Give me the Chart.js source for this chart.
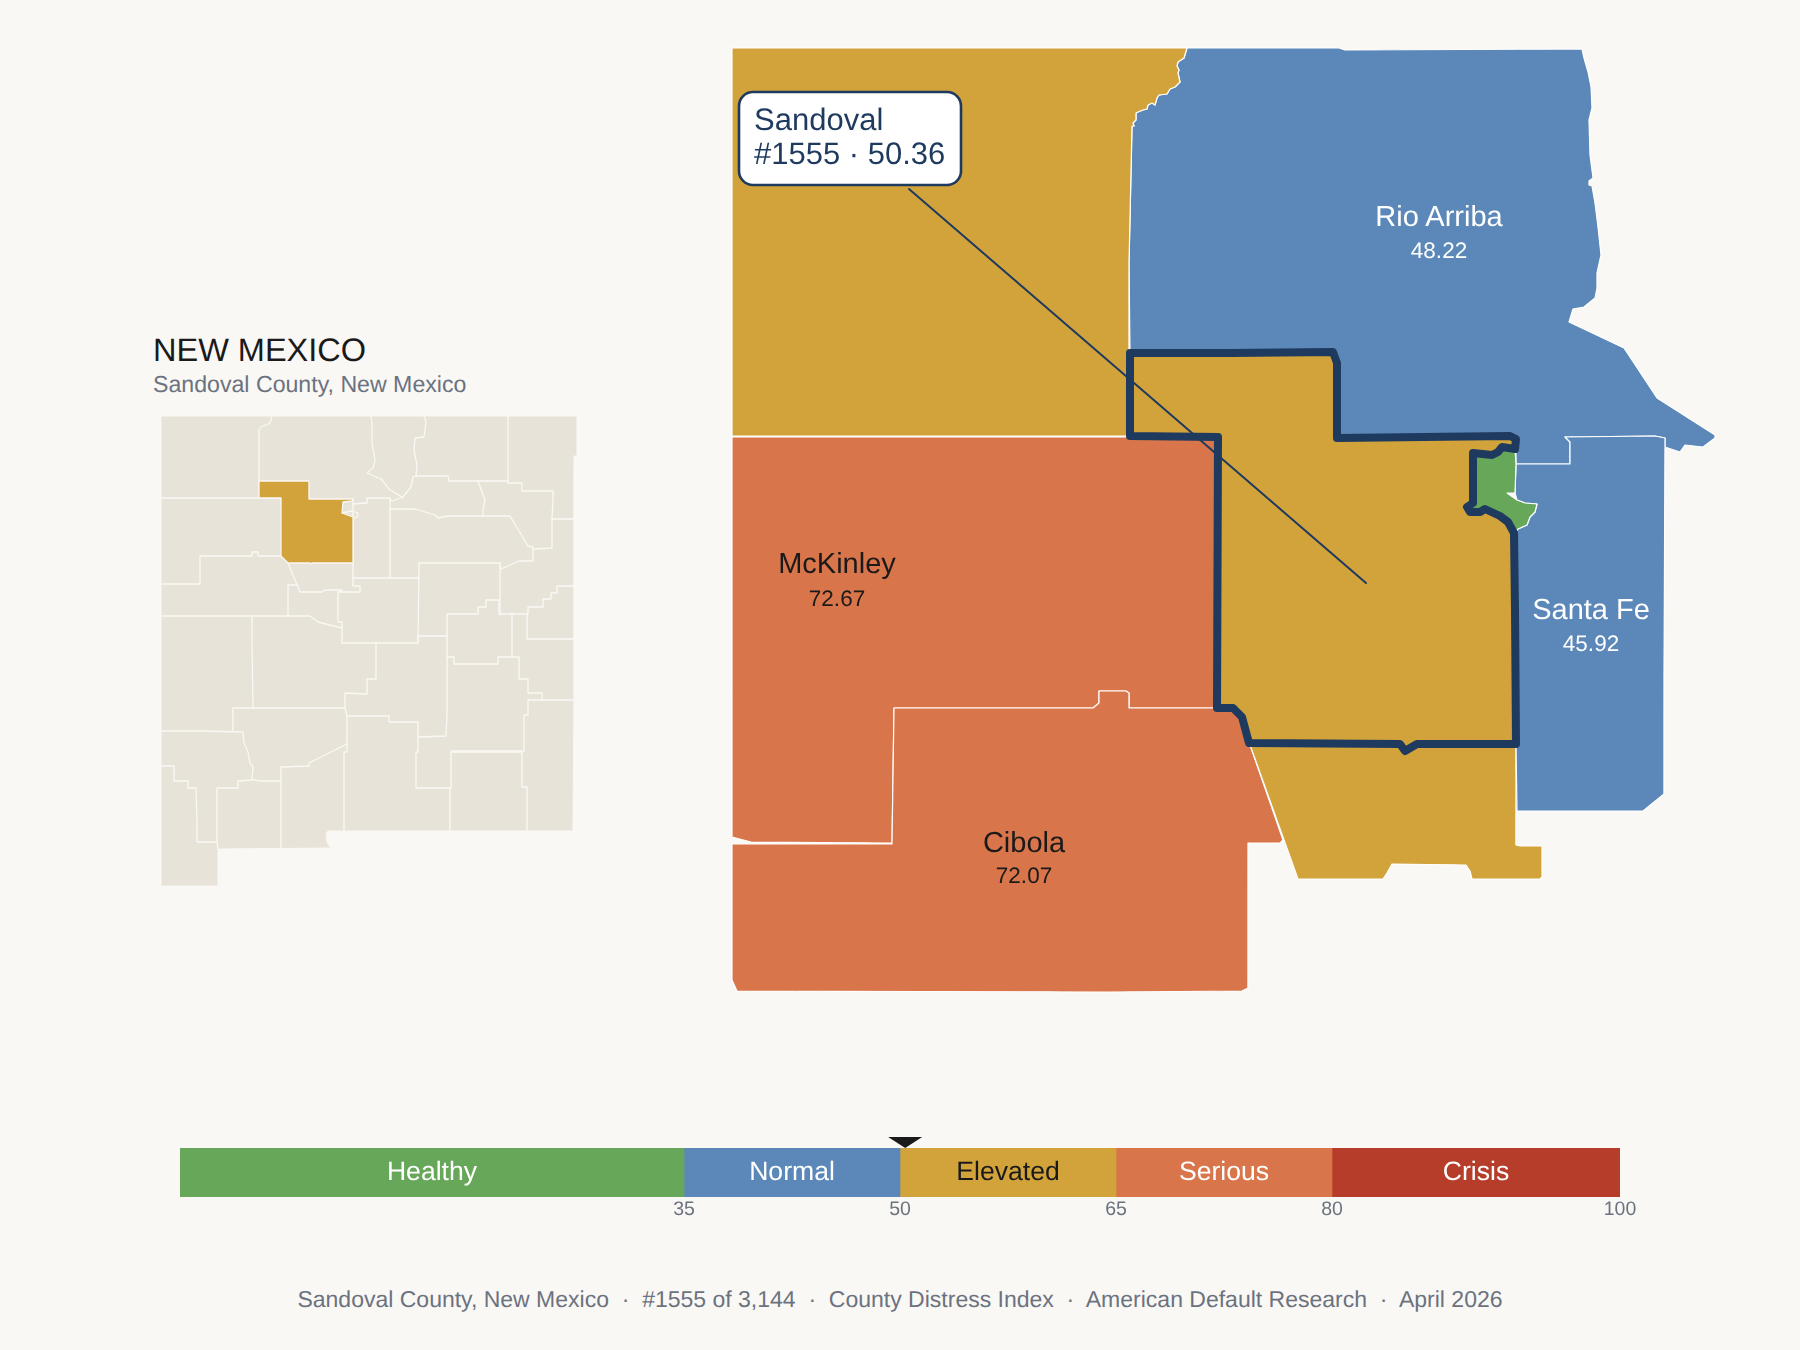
<!DOCTYPE html>
<html><head><meta charset="utf-8">
<script src="https://cdn.jsdelivr.net/npm/chart.js@4"></script>
<style>
html,body{margin:0;padding:0;background:#FAF8F4;width:1800px;height:1350px;overflow:hidden;font-family:"Liberation Sans",Arial,sans-serif;text-rendering:geometricPrecision}
canvas{position:absolute;display:block}
.t{position:absolute;white-space:pre;line-height:1}
</style></head><body>
<div class="t" style="left:153px;top:334px;font-size:32.5px;color:#1a1a1a">NEW MEXICO</div>
<div class="t" style="left:153px;top:372.5px;font-size:23.15px;color:#6b7280">Sandoval County, New Mexico</div>
<canvas id="inset" width="460" height="500" style="left:140px;top:400px"></canvas>
<canvas id="main" width="1040" height="1000" style="left:700px;top:20px"></canvas>
<canvas id="scale" width="1800" height="110" style="left:0;top:1120px"></canvas>
<div class="t" style="left:0;width:1800px;text-align:center;top:1288px;font-size:23px;color:#6b7280">Sandoval County, New Mexico  ·  #1555 of 3,144  ·  County Distress Index  ·  American Default Research  ·  April 2026</div>
<script>
// ---- Colour bands ----
const bandNames=['Healthy','Normal','Elevated','Serious','Crisis'];
const bandWidths=[35,15,15,15,20];
const bandColors=['#67A75A','#5B88B8','#D1A33A','#D9754A','#B73D2B'];
const bandText=['#ffffff','#ffffff','#1a1a1a','#ffffff','#ffffff'];
const bandTicks=[35,50,65,80,100];
const sandovalScore=50.36;

// ---- Detail map outlines, map units ----
const jag=[[455,0],[452,10],[446,14],[445,18],[447,22],[446,25],[448,34],[443,39],[438,41],[435,46],[427,47],[425,50],[423,57],[420,55],[416,57],[415,61],[411,62],[406,64],[404,65],[404,72],[401,75],[402,78],[400,78],[399,125],[397,215]];
const sanJuan=[...jag,[397,388],[0,388],[0,0],[455,0]];
const rioArriba=[[455,0],[607,0],[613,2],[850,1],[852,10],[856,24],[859,39],[860,60],[857,72],[858,107],[861,130],[857,133],[857,137],[860,138],[863,155],[866,179],[869,207],[865,225],[865,240],[863,250],[852,259],[841,261],[837,274],[892,300],[925,350],[983,387],[983,390],[971,399],[953,397],[948,404],[933,399],[933,390],[923,388],[833,389],[838,394],[838,416],[784,416],[784,391],[778,388],[605,390],[605,315],[601,304],[398,305],...[...jag].reverse()];
const mcKinley=[[0,389],[486,389],[485,660],[397,660],[397,645],[394,643],[367,643],[367,655],[361,660],[162,660],[160,795],[19,794],[0,789],[0,389]];
const cibola=[[485,660],[501,660],[510,669],[517,694],[551,792],[548,795],[516,795],[516,940],[510,943],[375,944],[5,943],[0,932],[0,796],[160,796],[162,660],[361,660],[367,655],[367,643],[394,643],[397,645],[397,660],[485,660]];
const bernalillo=[[517,694],[784,695],[784,797],[788,798],[810,798],[810,829],[808,831],[740,831],[738,823],[734,817],[660,816],[655,825],[651,831],[566,831],[517,694]];
const santaFe=[[784,416],[838,416],[838,394],[833,389],[923,388],[933,390],[932,632],[932,746],[911,763],[785,763],[784,695],[783,562],[782,485],[786,481],[795,477],[798,469],[803,464],[805,456],[793,455],[785,452],[783,445],[784,416]];
const losAlamos=[[741,405],[760,407],[766,404],[770,399],[783,401],[784,416],[783,445],[775,445],[785,452],[793,455],[805,456],[803,464],[798,469],[795,477],[786,481],[782,485],[776,474],[768,468],[753,461],[748,464],[738,464],[735,459],[741,455],[741,405]];
const sandoval=[[398,305],[498,305],[601,304],[605,315],[605,390],[778,388],[784,391],[783,401],[770,399],[766,404],[760,407],[741,405],[741,455],[735,459],[738,464],[748,464],[753,461],[768,468],[776,474],[782,485],[783,562],[784,696],[685,696],[673,703],[668,696],[517,695],[510,669],[501,660],[485,660],[486,389],[398,388],[398,305]];
const leader=[[177,141],[634,535]];

// ---- Map labels ----
const countyLabels=[
 {name:'Rio Arriba',value:'48.22',x:707,y:178,vy:210,color:'#ffffff'},
 {name:'McKinley',value:'72.67',x:105,y:525,vy:558,color:'#1a1a1a'},
 {name:'Cibola',value:'72.07',x:292,y:804,vy:835,color:'#1a1a1a'},
 {name:'Santa Fe',value:'45.92',x:859,y:571,vy:603,color:'#ffffff'}
];
const calloutLines=['Sandoval','#1555 · 50.36'];
const calloutBox={x0:7,y0:44,x1:229,y1:137};

// ---- State overview map, map units ----
const stateShape=[[0,0],[416,0],[416,40],[413,40],[413,284],[412,415],[167,415],[165,417],[166,426],[169,431],[172,432],[57,433],[57,470],[0,470],[0,0]];
const stateSandoval=[[98,65],[148,65],[148,83],[192,83],[191,85],[182,86],[181,97],[192,101],[192,147],[151,147],[150,148],[149,147],[127,147],[120,140],[120,82],[98,82],[98,65]];
const stateLines=[
[[0,82],[120,82]],
[[98,82],[98,14],[100,11],[109,7],[111,0]],
[[192,88],[206,87],[206,82],[229,82]],
[[181,97],[191,95],[197,97],[196,101],[192,103]],
[[192,83],[192,162]],
[[210,0],[211,7],[211,27],[214,44],[212,52],[206,57],[220,63],[229,74],[241,81],[232,85],[229,84]],
[[263,0],[265,6],[263,21],[254,22],[253,34],[256,49],[255,60],[252,61],[250,71],[241,82]],
[[255,60],[287,60],[288,65],[317,65],[347,65]],
[[347,0],[347,67],[361,67],[361,75],[392,75],[392,82],[391,103],[391,132],[372,133]],
[[391,103],[413,103]],
[[317,65],[324,84],[322,94],[322,100]],
[[229,93],[254,93],[274,99],[277,102],[287,100],[349,100],[367,130],[372,131],[372,145],[358,145],[340,153]],
[[229,82],[229,162]],
[[192,162],[258,162]],
[[127,147],[139,176],[161,176],[164,174],[181,174],[178,176],[199,176],[199,170],[192,170],[192,162]],
[[0,168],[39,168],[39,140],[91,140],[91,136],[97,136],[97,140],[125,140]],
[[136,169],[127,169],[127,200]],
[[177,176],[177,206],[181,206],[181,227]],
[[0,200],[149,200],[157,206],[181,212]],
[[91,200],[91,227],[92,292]],
[[72,292],[184,292]],
[[72,292],[72,315]],
[[0,315],[39,315],[82,316],[83,327],[87,336],[89,347],[92,351],[91,363],[98,365],[120,365]],
[[0,350],[13,350],[13,365],[27,365],[27,372],[35,372],[36,408],[36,426],[56,426],[57,433]],
[[91,364],[77,365],[77,372],[56,372],[56,408],[56,426]],
[[120,351],[120,432]],
[[120,351],[148,350],[148,347],[186,328],[186,300],[184,292],[184,277],[206,278],[206,263],[215,263],[215,227]],
[[181,227],[257,227],[257,220],[286,220]],
[[258,147],[257,227]],
[[258,147],[339,147],[340,153]],
[[339,147],[339,199]],
[[286,199],[286,241],[286,299],[285,320],[257,321],[257,306],[228,306],[228,300],[186,300]],
[[257,321],[257,336],[255,336],[255,372],[289,372],[289,414]],
[[186,328],[186,336],[183,336],[183,415]],
[[290,372],[290,336],[361,336],[361,371],[366,371],[366,415]],
[[286,241],[293,241],[293,248],[337,248],[337,241],[358,241],[358,263],[367,263],[367,277],[381,277],[381,284]],
[[367,284],[412,284]],
[[367,284],[367,299],[363,299],[363,335],[290,335]],
[[351,198],[351,241]],
[[286,198],[317,198],[317,191],[325,191],[325,184],[338,184],[338,198],[367,198],[367,191],[382,191],[382,183],[390,183],[390,177],[396,177],[396,170],[413,170]],
[[366,198],[366,223],[413,223]]
];

const FONT='"Liberation Sans",Arial,sans-serif';
const GOLD=bandColors[2],BLUE=bandColors[1],ORANGE=bandColors[3],GREEN=bandColors[0];
const NAVY='#1F3A5F',BEIGE='#E8E3D8',PAPER='#FAF8F4';
const pts=a=>a.map(p=>({x:p[0],y:p[1]}));
const poly=(a,fill,line,w)=>({data:pts(a),showLine:true,fill:fill?'shape':false,backgroundColor:fill||'transparent',borderColor:line,borderWidth:w,pointRadius:0,tension:1e-4,borderJoinStyle:'round',borderCapStyle:'round',clip:false});
const stack=list=>{list.forEach((d,i)=>d.order=list.length-i);return list;};
const mapScale=(max,rev)=>({type:'linear',display:false,min:0,max,reverse:!!rev});
const quiet={legend:{display:false},tooltip:{enabled:false},title:{display:false}};
const precise={id:'precise',beforeDraw(c){c.ctx.textRendering='geometricPrecision';}};

new Chart(document.getElementById('inset'),{type:'scatter',
 data:{datasets:stack([
  poly(stateShape,BEIGE,PAPER,1),
  ...stateLines.map(l=>poly(l,null,PAPER,1.3)),
  poly(stateSandoval,GOLD,PAPER,1.3)
 ])},
 options:{responsive:false,animation:false,events:[],plugins:quiet,
  layout:{padding:{left:21,top:16,right:19,bottom:10}},
  scales:{x:mapScale(420),y:mapScale(474,true)}}});

const mapText={id:'mapText',afterDatasetsDraw(c){
 const g=c.ctx,X=c.scales.x,Y=c.scales.y;
 g.save();
 g.textRendering='geometricPrecision';
 g.textAlign='center';g.textBaseline='alphabetic';
 countyLabels.forEach(l=>{
  g.fillStyle=l.color;
  g.font='29px '+FONT;g.fillText(l.name,X.getPixelForValue(l.x),Y.getPixelForValue(l.y));
  g.font='22.5px '+FONT;g.fillText(l.value,X.getPixelForValue(l.x),Y.getPixelForValue(l.vy));
 });
 const x0=X.getPixelForValue(calloutBox.x0),x1=X.getPixelForValue(calloutBox.x1),y0=Y.getPixelForValue(calloutBox.y0),y1=Y.getPixelForValue(calloutBox.y1);
 g.beginPath();g.roundRect(x0,y0,x1-x0,y1-y0,14);
 g.fillStyle='#ffffff';g.fill();g.lineWidth=2.6;g.strokeStyle=NAVY;g.stroke();
 g.fillStyle=NAVY;g.font='31px '+FONT;g.textAlign='left';
 g.fillText(calloutLines[0],x0+15,y0+38);
 g.fillText(calloutLines[1],x0+15,y0+72);
 g.restore();
}};
new Chart(document.getElementById('main'),{type:'scatter',plugins:[mapText],
 data:{datasets:stack([
  poly(rioArriba,BLUE,'#ffffff',1.2),
  poly(sanJuan,GOLD,'#ffffff',1.2),
  poly(mcKinley,ORANGE,'#ffffff',1.2),
  poly(cibola,ORANGE,'#ffffff',1.2),
  poly(bernalillo,GOLD,'#ffffff',1.2),
  poly(santaFe,BLUE,'#ffffff',1.2),
  poly(losAlamos,GREEN,'#ffffff',1.2),
  poly(sandoval,GOLD,NAVY,8),
  poly(leader,null,NAVY,2)
 ])},
 options:{responsive:false,animation:false,events:[],plugins:quiet,
  layout:{padding:{left:32,top:28,right:8,bottom:12}},
  scales:{x:mapScale(1000),y:mapScale(960,true)}}});

const scaleMarks={id:'scaleMarks',afterDatasetsDraw(c){
 const g=c.ctx,X=c.scales.x,a=c.chartArea;
 g.save();
 g.textRendering='geometricPrecision';
 g.textAlign='center';g.textBaseline='alphabetic';g.font='26.6px '+FONT;
 c.data.datasets.forEach((d,i)=>{
  const b=c.getDatasetMeta(i).data[0];
  g.fillStyle=bandText[i];
  g.fillText(bandNames[i],(b.x+b.base)/2,a.top+32);
 });
 const px=X.getPixelForValue(sandovalScore);
 g.fillStyle='#1a1a1a';g.beginPath();g.moveTo(px-17,a.top-11);g.lineTo(px+17,a.top-11);g.lineTo(px,a.top);g.closePath();g.fill();
 g.restore();
}};
new Chart(document.getElementById('scale'),{type:'bar',plugins:[precise,scaleMarks],
 data:{labels:['Index'],datasets:bandNames.map((n,i)=>({label:n,data:[bandWidths[i]],backgroundColor:bandColors[i],borderWidth:0,barPercentage:1,categoryPercentage:1}))},
 options:{indexAxis:'y',responsive:false,animation:false,events:[],plugins:quiet,
  layout:{padding:{left:180,right:180,top:28,bottom:0}},
  scales:{
   y:{stacked:true,display:false},
   x:{stacked:true,min:0,max:100,grid:{display:false,drawTicks:false},border:{display:false},
      afterBuildTicks:s=>{s.ticks=bandTicks.map(v=>({value:v}));},
      afterFit:s=>{s.height=33;},
      ticks:{padding:1,autoSkip:false,maxRotation:0,color:'#6b7280',font:{family:FONT,size:19.5}}}
  }}});
</script>
</body></html>
